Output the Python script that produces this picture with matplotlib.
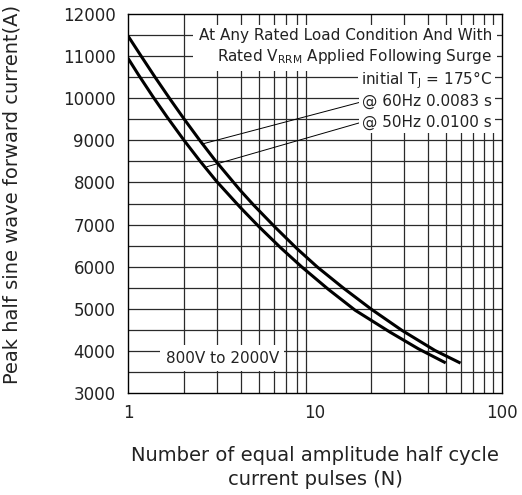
import matplotlib
matplotlib.use("Agg")
import matplotlib.pyplot as plt

plt.rcParams['font.family'] = ['DejaVu Sans']
plt.rcParams['mathtext.fontset'] = 'dejavusans'

# Data
n_60hz = [1, 1.18, 1.40, 1.69, 2.0, 2.42, 2.93, 3.97, 4.68, 6.11, 8.0, 10.3, 14.2, 20, 29.1, 43.8, 60]
i_60hz = [11480, 10990, 10490, 9960, 9500, 9000, 8520, 7820, 7470, 6940, 6430, 5990, 5490, 4990, 4490, 4010, 3710]
n_50hz = [1, 1.14, 1.36, 1.62, 1.99, 2.42, 2.97, 3.97, 5.0, 6.55, 8.49, 11.8, 16.4, 25.2, 35.7, 50]
i_50hz = [10950, 10550, 10035, 9550, 9005, 8515, 8030, 7415, 6955, 6450, 5995, 5460, 4965, 4445, 4050, 3715]

y_ticks = [3000, 4000, 5000, 6000, 7000, 8000, 9000, 10000, 11000, 12000]
x_ticks = [1, 10, 100]
x_ticklabels = ["1", "10", "100"]

W, H = 522, 495
fig = plt.figure(figsize=(W / 100, H / 100), dpi=100)
ax = fig.add_axes([128 / W, 1 - 393 / H, (502 - 128) / W, (393 - 14) / H])
ax.set_xscale('log')
ax.set_xlim(1, 100)
ax.set_ylim(3000, 12000)

gc = '#2a2a2a'
for v in list(range(2, 10)) + list(range(20, 100, 10)):
    ax.axvline(v, color=gc, lw=0.9, zorder=1)
for v in range(3500, 12000, 500):
    ax.axhline(v, color=gc, lw=0.9, zorder=1)

ax.plot(n_60hz, i_60hz, color='black', lw=2.2, zorder=4, solid_capstyle='butt', solid_joinstyle='round')
ax.plot(n_50hz, i_50hz, color='black', lw=2.2, zorder=4, solid_capstyle='butt', solid_joinstyle='round')

ax.set_xticks(x_ticks)
ax.set_xticklabels(x_ticklabels)
ax.xaxis.set_minor_locator(matplotlib.ticker.NullLocator())
ax.set_yticks(y_ticks)
ax.tick_params(axis='both', length=0, labelsize=12, colors='#222222')
ax.tick_params(axis='y', pad=9)
ax.tick_params(axis='x', pad=8)
for s in ax.spines.values():
    s.set_linewidth(1.0)
    s.set_color('black')

bb = dict(boxstyle='square,pad=0.2', fc='white', ec='none')
tc = '#222222'
fs = 11
ax.text(88.5, 11215, "At Any Rated Load Condition And With\nRated V$_{\\mathrm{RRM}}$ Applied Following Surge",
        ha='right', va='center', multialignment='right', fontsize=fs, color=tc,
        bbox=dict(boxstyle='square,pad=0.35', fc='white', ec='none'), zorder=5, linespacing=1.25)
ax.text(88.5, 10432, "initial T$_{\\mathrm{J}}$ = 175°C", ha='right', va='center',
        fontsize=fs, color=tc, bbox=bb, zorder=5)
ax.annotate("@ 60Hz 0.0083 s", xy=(2.48, 8910), xytext=(88.5, 9917),
            ha='right', va='center', fontsize=fs, color=tc, bbox=bb, zorder=5,
            arrowprops=dict(arrowstyle='-', lw=0.7, color='black', shrinkA=0, shrinkB=0,
                            relpos=(0, 0.5)))
ax.annotate("@ 50Hz 0.0100 s", xy=(2.64, 8373), xytext=(88.5, 9435),
            ha='right', va='center', fontsize=fs, color=tc, bbox=bb, zorder=5,
            arrowprops=dict(arrowstyle='-', lw=0.7, color='black', shrinkA=0, shrinkB=0,
                            relpos=(0, 0.5)))
ax.text(3.2, 3830, "800V to 2000V", ha='center', va='center', fontsize=fs, color=tc,
        bbox=dict(boxstyle='square,pad=0.35', fc='white', ec='none'), zorder=5)

fig.text(315 / W, 1 - 467.5 / H, "Number of equal amplitude half cycle\ncurrent pulses (N)",
         ha='center', va='center', fontsize=14, color=tc, linespacing=1.3)
fig.text(12 / W, 1 - 194 / H, "Peak half sine wave forward current(A)", rotation=90,
         ha='center', va='center', fontsize=14, color=tc)

fig.savefig("out.png", dpi=100)
